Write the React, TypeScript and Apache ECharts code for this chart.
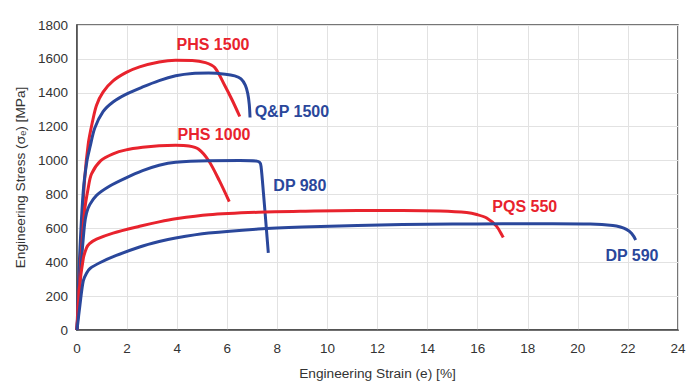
import React, { useEffect, useRef } from "react";
import * as echarts from "echarts";

const RED = "#e8232d";
const BLUE = "#2a479b";

const xTicks = [0, 2, 4, 6, 8, 10, 12, 14, 16, 18, 20, 22, 24];
const yTicks = [0, 200, 400, 600, 800, 1000, 1200, 1400, 1600, 1800];

const phs1500: number[][] = [
  [0, 0], [0.15, 480], [0.3, 880], [0.45, 1100], [0.62, 1231], [0.78, 1327], [1.04, 1404],
  [1.44, 1470], [1.97, 1520], [2.5, 1553], [3.28, 1582], [3.94, 1592], [4.6, 1591],
  [5.13, 1578], [5.5, 1549], [5.9, 1443], [6.2, 1356], [6.5, 1260],
];
const qp1500: number[][] = [
  [0, 0], [0.1, 420], [0.25, 820], [0.4, 1000], [0.52, 1080], [0.71, 1192], [1.04, 1289],
  [1.44, 1346], [1.97, 1392], [2.6, 1433], [3.28, 1472], [3.94, 1500], [4.6, 1514],
  [5.26, 1516], [5.92, 1510], [6.3, 1500], [6.55, 1482], [6.72, 1445], [6.82, 1395],
  [6.88, 1330], [6.91, 1254],
];
const phs1000: number[][] = [
  [0, 0], [0.15, 400], [0.3, 700], [0.45, 840], [0.58, 922], [0.95, 1000], [1.44, 1040],
  [1.96, 1063], [2.62, 1078], [3.28, 1087], [3.94, 1090], [4.47, 1086], [4.86, 1067],
  [5.26, 999], [5.68, 883], [6.08, 758],
];
const dp980: number[][] = [
  [0, 0], [0.15, 350], [0.3, 620], [0.38, 690], [0.51, 740], [0.78, 795], [1.31, 850],
  [1.96, 898], [2.62, 940], [3.28, 972], [3.94, 990], [5.26, 999], [6.5, 1000],
  [7.15, 997], [7.3, 988], [7.35, 965], [7.45, 800], [7.55, 620], [7.64, 455],
];
const pqs550: number[][] = [
  [0, 0], [0.1, 250], [0.25, 420], [0.38, 485], [0.5, 510], [0.78, 536], [1.44, 572],
  [2.5, 612], [3.28, 638], [3.94, 656], [5.26, 680], [7.23, 695], [9, 701], [11.2, 705],
  [13, 705], [14.5, 702], [15.56, 693], [16.0, 680], [16.36, 661], [16.75, 613], [17.02, 546],
];
const dp590: number[][] = [
  [0, 0], [0.12, 150], [0.25, 290], [0.38, 335], [0.52, 363], [0.91, 397], [1.57, 440],
  [2.5, 490], [3.28, 522], [3.94, 543], [5.26, 572], [7.23, 596], [9, 608], [11.2, 617],
  [13, 622], [15, 625], [17, 626.5], [19, 627], [20.5, 625], [21.4, 617], [21.7, 608],
  [21.94, 594], [22.15, 570], [22.31, 531],
];

const labelNames = ["PHS 1500", "Q&P 1500", "PHS 1000", "DP 980", "PQS 550", "DP 590"];
const labelCoords: number[][] = [
  [5.43, 1684], [8.58, 1290], [5.47, 1152], [8.9, 851], [17.88, 729], [22.16, 440],
];

export default function App() {
  const ref = useRef<HTMLDivElement>(null);
  useEffect(() => {
    if (!ref.current) return;
    const chart = echarts.init(ref.current, null, { renderer: "svg" });
    const series = [
      { name: "PHS 1500", data: phs1500, color: RED, li: 0 },
      { name: "Q&P 1500", data: qp1500, color: BLUE, li: 1 },
      { name: "PHS 1000", data: phs1000, color: RED, li: 2 },
      { name: "DP 980", data: dp980, color: BLUE, li: 3 },
      { name: "PQS 550", data: pqs550, color: RED, li: 4 },
      { name: "DP 590", data: dp590, color: BLUE, li: 5 },
    ].map((s) => ({
      type: "line",
      name: s.name,
      data: s.data,
      smooth: 0.3,
      showSymbol: false,
      symbol: "none",
      lineStyle: { color: s.color, width: 3 },
      itemStyle: { color: s.color },
      markPoint: {
        symbol: "circle",
        symbolSize: 0,
        data: [
          {
            coord: labelCoords[s.li],
            label: {
              show: true,
              formatter: labelNames[s.li],
              position: "inside",
              color: s.color,
              fontSize: 16,
              fontWeight: "bold",
              fontFamily: "Liberation Sans, Arial, sans-serif",
            },
          },
        ],
      },
    }));
    chart.setOption({
      animation: false,
      backgroundColor: "#ffffff",
      textStyle: { fontFamily: "Liberation Sans, Arial, sans-serif" },
      grid: {
        left: 77,
        right: 22,
        top: 25,
        bottom: 49,
        show: true,
        borderColor: "#4a4a4a",
        borderWidth: 1.5,
      },
      xAxis: {
        type: "value",
        min: xTicks[0],
        max: xTicks[xTicks.length - 1],
        interval: 2,
        name: "Engineering Strain (e) [%]",
        nameLocation: "middle",
        nameGap: 36,
        nameTextStyle: { color: "#333", fontSize: 13.7 },
        axisLine: { show: true, lineStyle: { color: "#4a4a4a", width: 1.5 } },
        axisTick: { show: false },
        axisLabel: { color: "#333", fontSize: 13.5, margin: 11, formatter: (v: number) => String(v) },
        splitLine: { show: true, lineStyle: { color: "#e2e2e2", width: 1 } },
      },
      yAxis: {
        type: "value",
        min: yTicks[0],
        max: yTicks[yTicks.length - 1],
        interval: 200,
        name: "Engineering Stress (σₑ) [MPa]",
        nameLocation: "middle",
        nameGap: 45,
        nameTextStyle: { color: "#333", fontSize: 13.7 },
        axisLine: { show: true, lineStyle: { color: "#4a4a4a", width: 1.5 } },
        axisTick: { show: false },
        axisLabel: { color: "#333", fontSize: 13.5, margin: 9, formatter: (v: number) => String(v) },
        splitLine: { show: true, lineStyle: { color: "#e2e2e2", width: 1 } },
      },
      series,
    });
    return () => chart.dispose();
  }, []);
  return (
    <div
      ref={ref}
      style={{ position: "fixed", left: 0, top: 0, width: 700, height: 385, background: "#fff" }}
    />
  );
}
